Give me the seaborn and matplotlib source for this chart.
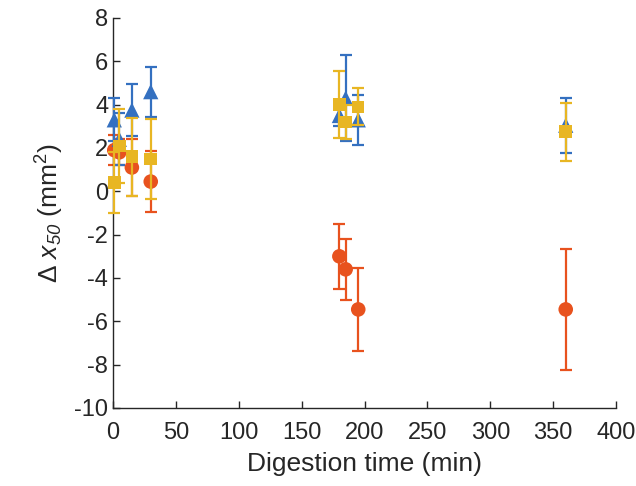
import numpy as np
import pandas as pd
import matplotlib
matplotlib.use("Agg")
import matplotlib.pyplot as plt
import seaborn as sns

# digestion times (min) and delta x50 values with error (mm^2)
time = [1, 5, 15, 30, 180, 185, 195, 360]

orange_y = [1.9, 1.8, 1.1, 0.45, -3.0, -3.6, -5.45, -5.45]
orange_err = [0.7, 0.6, 1.3, 1.4, 1.5, 1.4, 1.9, 2.8]

blue_y = [3.3, 2.4, 3.75, 4.6, 3.5, 4.3, 3.3, 3.05]
blue_err = [1.0, 1.2, 1.2, 1.15, 0.5, 2.0, 1.15, 1.27]

yellow_y = [0.4, 2.1, 1.6, 1.5, 4.0, 3.2, 3.9, 2.75]
yellow_err = [1.4, 1.7, 1.8, 1.85, 1.55, 0.8, 0.85, 1.33]

sns.set_style("ticks")
plt.rcParams['font.family'] = ['Liberation Sans', 'DejaVu Sans']
plt.rcParams['mathtext.fontset'] = 'custom'
plt.rcParams['mathtext.rm'] = 'Liberation Sans'
plt.rcParams['mathtext.it'] = 'Liberation Sans:italic'
plt.rcParams['mathtext.sf'] = 'Liberation Sans:italic'
plt.rcParams['axes.unicode_minus'] = False

fig = plt.figure(figsize=(6.36, 4.86), dpi=100)
ax = fig.add_axes([0.1777, 0.1605, 0.7909, 0.8025])

series = [
    ("orange", orange_y, orange_err, "#E8521E", "o", 10.5),
    ("blue", blue_y, blue_err, "#3470C0", "^", 11),
    ("yellow", yellow_y, yellow_err, "#E8B623", "s", 9),
]

for i, (name, y, err, col, mk, ms) in enumerate(series):
    df = pd.DataFrame({"time": time, "value": y, "err": err})
    ax.errorbar(df["time"], df["value"], yerr=df["err"], fmt="none",
                ecolor=col, elinewidth=1.6, capsize=4.5, capthick=1.6,
                zorder=2 + 2 * i, clip_on=False)
    sns.scatterplot(data=df, x="time", y="value", ax=ax, color=col,
                    marker=mk, s=ms ** 2, edgecolor="none", linewidth=0,
                    zorder=3 + 2 * i, clip_on=False, legend=False)

ax.set_xlim(0, 400)
ax.set_ylim(-10, 8)
ax.set_xticks(np.arange(0, 401, 50))
ax.set_yticks(np.arange(-10, 9, 2))
ax.tick_params(direction="in", length=5, width=1, labelsize=17, colors="#262626")
ax.tick_params(axis="x", pad=10)
for s in ["top", "right"]:
    ax.spines[s].set_visible(False)
for s in ["left", "bottom"]:
    ax.spines[s].set_linewidth(1.0)
    ax.spines[s].set_color("#262626")

ax.set_xlabel("Digestion time (min)", fontsize=19, color="#262626", labelpad=6)
ax.set_ylabel(r"$\Delta$ $\mathit{x}_{\mathsf{50}}$ (mm$^2$)", fontsize=19,
              color="#262626", labelpad=6)

fig.savefig("out.png", dpi=100)
